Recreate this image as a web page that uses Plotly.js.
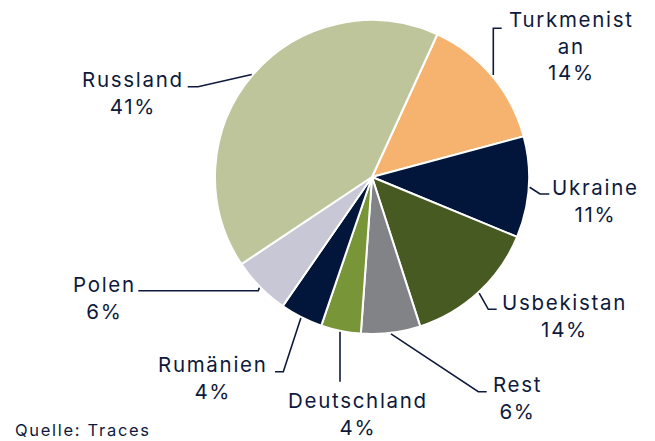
<!DOCTYPE html>
<html>
<head>
<meta charset="utf-8">
<script src="https://cdn.plot.ly/plotly-3.0.1.min.js"></script>
<style>
html,body{margin:0;padding:0;background:#fff;}
#chart{width:655px;height:441px;}
.annotation-text{letter-spacing:1.7px;}
</style>
</head>
<body>
<div id="chart"></div>
<script>
// ---- data ----
const labels = ["Turkmenistan", "Ukraine", "Usbekistan", "Rest", "Deutschland", "Rumänien", "Polen", "Russland"];
const labelTexts = ["Turkmenist<br>an", "Ukraine", "Usbekistan", "Rest", "Deutschland", "Rumänien", "Polen", "Russland"];
const values = [14.0, 10.4, 13.8, 6.1, 4.1, 4.4, 6.0, 41.2];
const pctLabels = ["14%", "11%", "14%", "6%", "4%", "4%", "6%", "41%"];
const colors = ["#f6b36f", "#02153a", "#475a22", "#828387", "#789637", "#02153a", "#c7c7d5", "#bec59b"];
const source = "Quelle: Traces";

// ---- layout constants ----
const W = 655, H = 441;
const rotation = 24.6;
const cxPx = 372, cyPx = 177, R = 157;
const dom = {x: [(cxPx - R) / W, (cxPx + R) / W], y: [1 - (cyPx + R) / H, 1 - (cyPx - R) / H]};
const textColor = "#0e1a3c";
const fontFam = "Inter, 'Open Sans', sans-serif";
const fs = 20.5;

// label placement (pixels): text centre, and leader path after the slice point
const place = {
  "Turkmenistan": {tx: 571, ty: 46, pts: [[493.3, 28.3], [501.7, 28.3]], vert: true},
  "Ukraine":      {tx: 595, ty: 201, pts: [[540, 194], [549.3, 194]]},
  "Usbekistan":   {tx: 564, ty: 316, pts: [[488.3, 309.3], [496.7, 309.3]]},
  "Rest":         {tx: 516.7, ty: 398, pts: [[478.3, 391.7], [486.7, 391.7]]},
  "Deutschland":  {tx: 356.7, ty: 414, pts: [[340, 381.7]], vert: true},
  "Rumänien":     {tx: 212.5, ty: 378, pts: [[283.3, 371.7], [275, 371.7]]},
  "Polen":        {tx: 103.8, ty: 298, pts: [[258.3, 290.7], [138.3, 290.7]]},
  "Russland":     {tx: 132.5, ty: 93.4, pts: [[198, 86.7], [187.7, 86.7]]}
};

const px = x => x / W;
const py = y => 1 - y / H;

const total = values.reduce((a, b) => a + b, 0);
let cum = 0;
const annotations = [];
const shapes = [];
labels.forEach((lab, i) => {
  const mid = rotation + (cum + values[i] / 2) / total * 360;
  cum += values[i];
  const a = mid * Math.PI / 180;
  const rr = R + 1;
  let P = [cxPx + rr * Math.sin(a), cyPx - rr * Math.cos(a)];
  const p = place[lab];
  const pts = p.pts.map(q => q.slice());
  if (p.vert) { P[0] = pts[0][0]; }
  let path = "M " + px(P[0]) + " " + py(P[1]);
  pts.forEach(q => { path += " L " + px(q[0]) + " " + py(q[1]); });
  shapes.push({type: "path", xref: "paper", yref: "paper", path: path,
    line: {color: textColor, width: 1.6}});
  annotations.push({xref: "paper", yref: "paper", x: px(p.tx + 0.8), y: py(p.ty),
    xanchor: "center", yanchor: "middle", showarrow: false, align: "center",
    text: labelTexts[i] + "<br>" + pctLabels[i],
    font: {family: fontFam, size: fs, color: textColor}});
});
annotations.push({xref: "paper", yref: "paper", x: px(13), y: py(430),
  xanchor: "left", yanchor: "middle", showarrow: false, text: source,
  font: {family: fontFam, size: 16.5, color: textColor}});

const trace = {
  type: "pie", labels: labels, values: values, sort: false, direction: "clockwise",
  rotation: rotation, textinfo: "none", hoverinfo: "label+percent",
  marker: {colors: colors, line: {color: "#ffffff", width: 2}},
  domain: dom, showlegend: false
};

Plotly.newPlot("chart", [trace], {
  width: W, height: H, margin: {l: 0, r: 0, t: 0, b: 0},
  paper_bgcolor: "#ffffff", plot_bgcolor: "#ffffff",
  showlegend: false, annotations: annotations, shapes: shapes
}, {displayModeBar: false, staticPlot: true});
</script>
</body>
</html>
